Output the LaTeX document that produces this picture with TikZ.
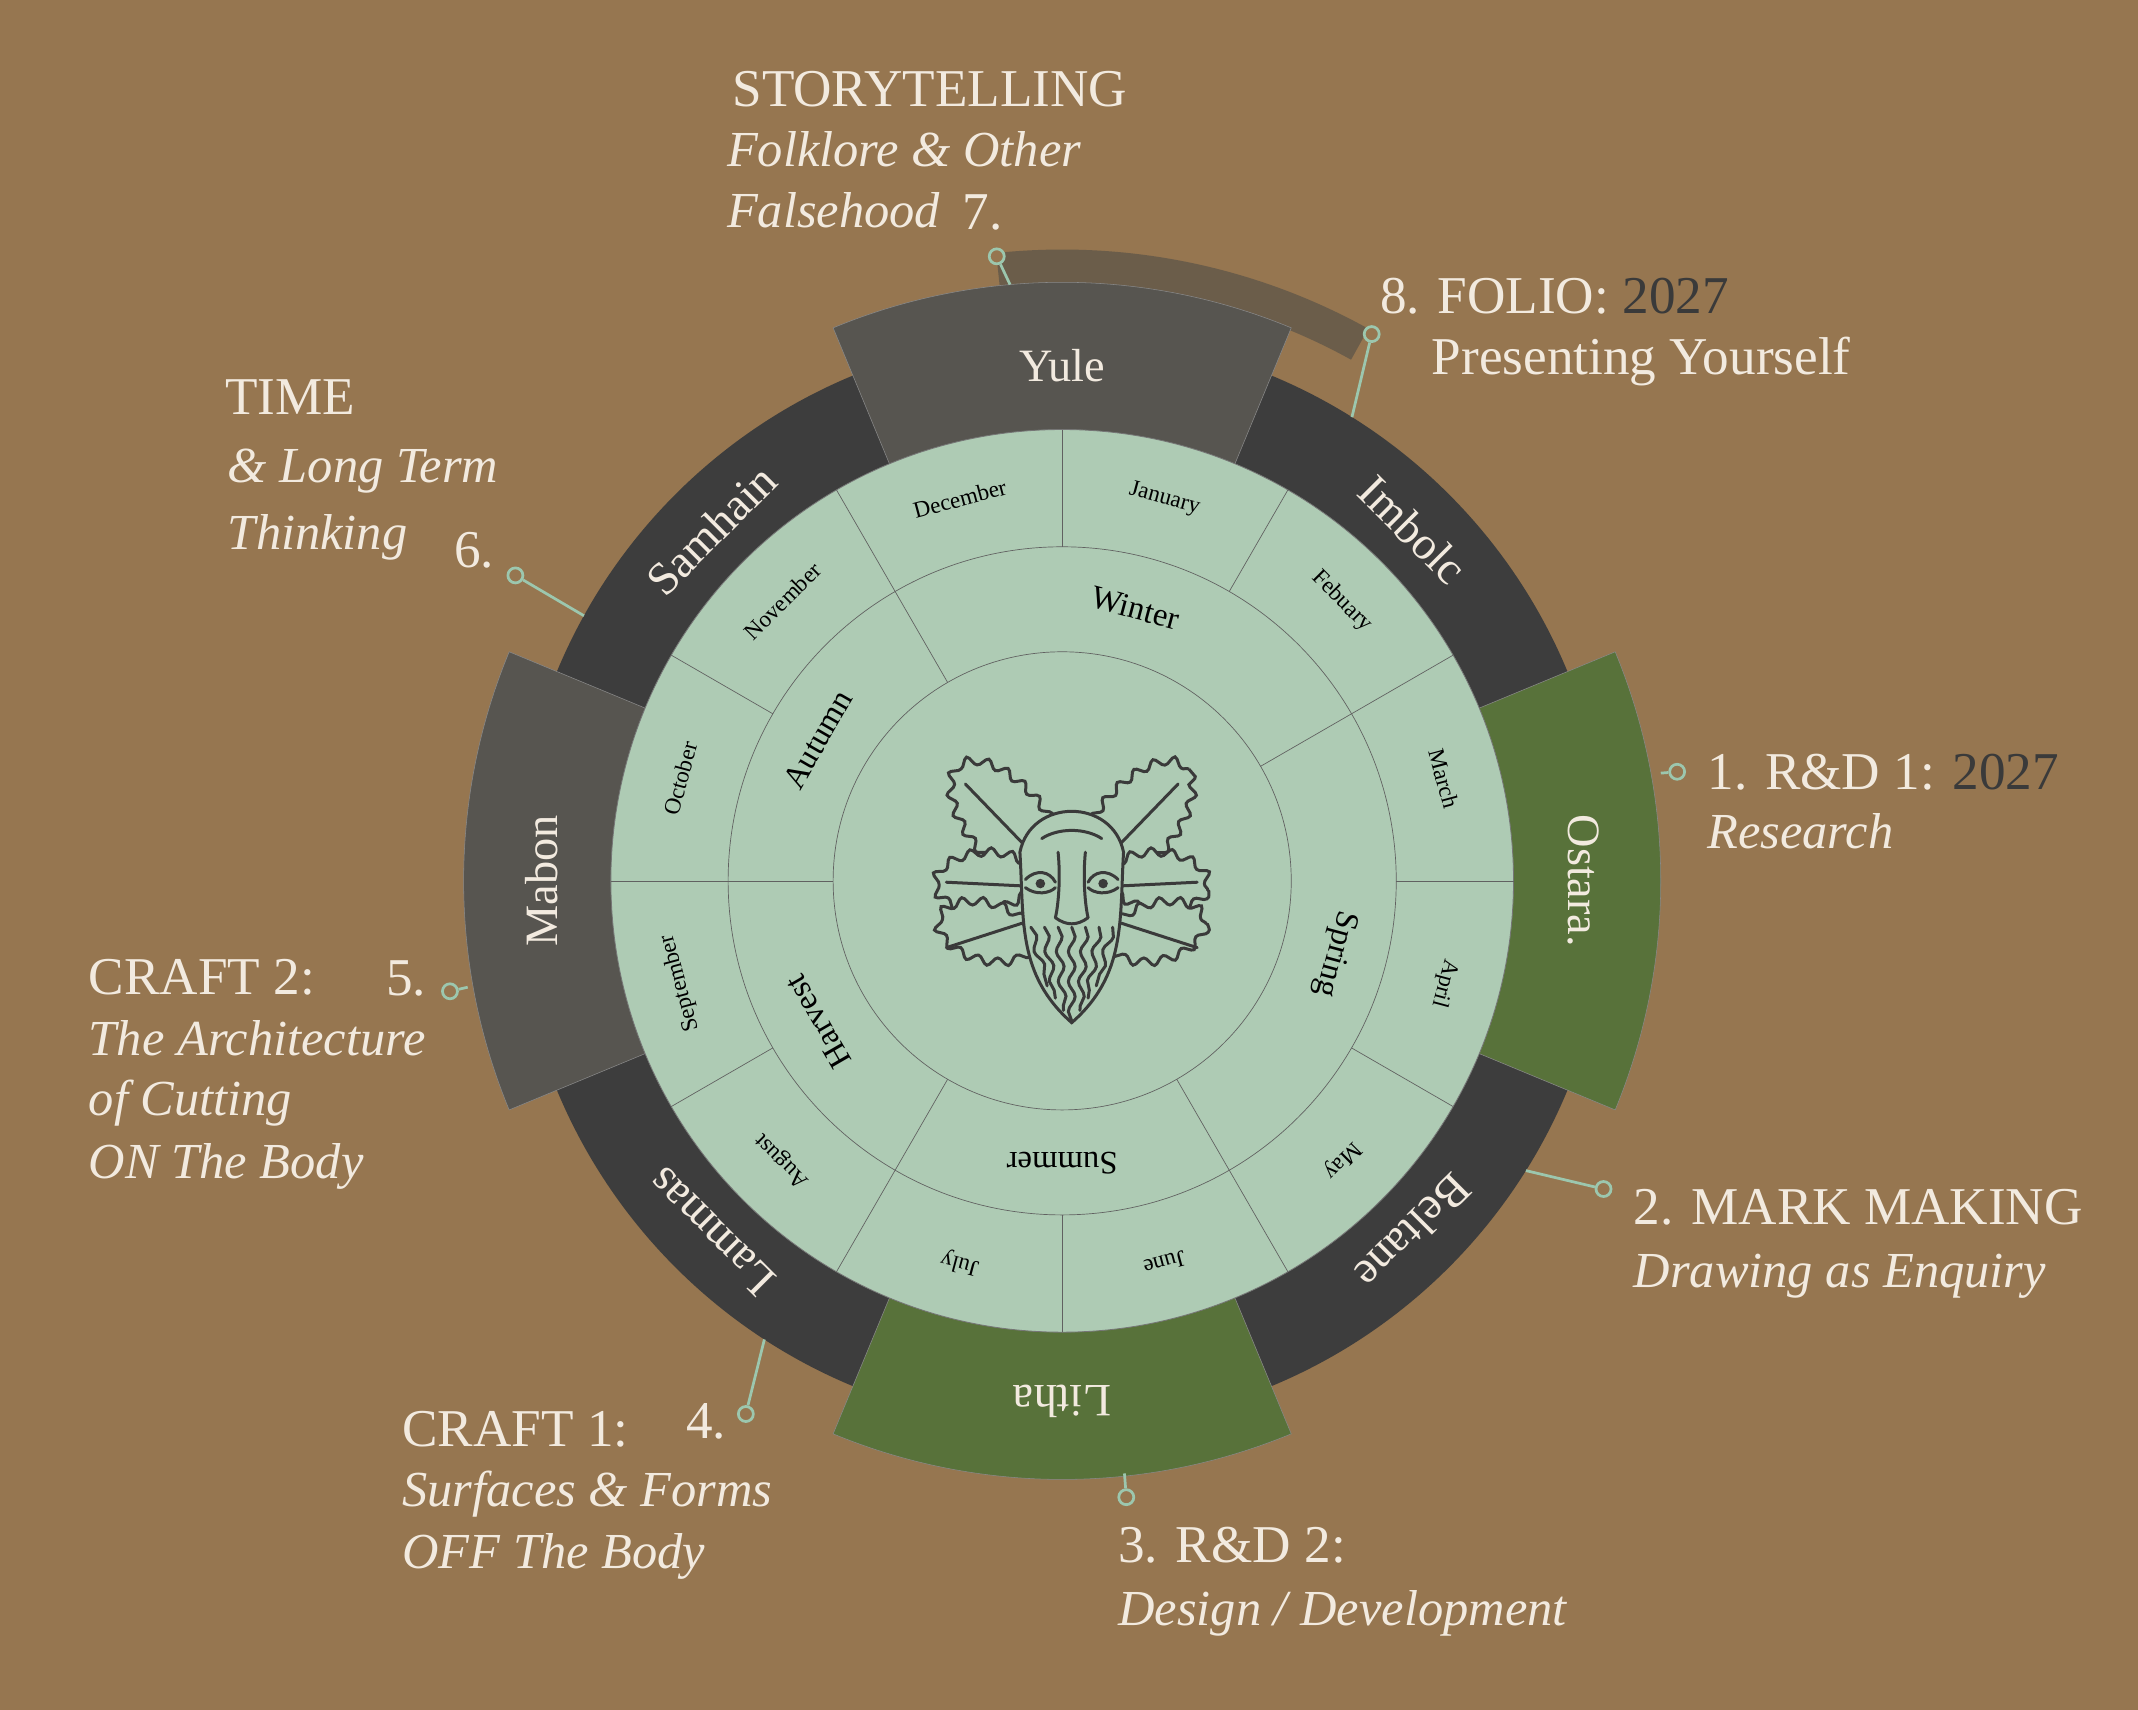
\documentclass[tikz,border=0pt]{standalone}
\usepackage{fontspec}
\setmainfont{Liberation Serif}
\usetikzlibrary{decorations.pathmorphing}
\definecolor{bg}{HTML}{967650}
\definecolor{mint}{HTML}{AECBB4}
\definecolor{darkring}{HTML}{3D3D3D}
\definecolor{greysec}{HTML}{575550}
\definecolor{greensec}{HTML}{58723A}
\definecolor{band}{HTML}{6B5D4A}
\definecolor{txt}{HTML}{F2EADF}
\definecolor{ink}{HTML}{3A3A3A}
\definecolor{pin}{HTML}{9CC7AE}
\tikzset{
  x=1pt,y=1pt,
  sectorline/.style={draw=ink!80,line width=0.5pt},
  monthlbl/.style={font=\fontsize{17}{17}\selectfont,text=black},
  seasonlbl/.style={font=\fontsize{24}{24}\selectfont,text=black},
  outerlbl/.style={font=\fontsize{34}{34}\selectfont,text=txt},
  biglbl/.style={font=\fontsize{39}{40}\selectfont,text=txt,anchor=base west,inner sep=0},
  itlbl/.style={font=\fontsize{37}{40}\selectfont\itshape,text=txt,anchor=base west,inner sep=0},
  pinc/.style={circle,draw=pin,line width=2pt,minimum size=11pt,inner sep=0,fill=bg},
  pinl/.style={draw=pin,line width=2pt},
  leaf/.style={draw=ink,line width=2.2pt,fill=mint,decorate,decoration={snake,segment length=15pt,amplitude=3pt}},
  inkl/.style={draw=ink,line width=2.2pt,line cap=round}
}
\newcommand{\ann}[5]{% a1 a2 r1 r2 style
  \path[#5] ([shift={(#1:#3pt)}]C) arc[start angle=#1,end angle=#2,radius=#3pt] -- ([shift={(#2:#4pt)}]C) arc[start angle=#2,end angle=#1,radius=#4pt] -- cycle;}
\begin{document}
\begin{tikzpicture}
\fill[bg] (0,0) rectangle (1568,-1254);
\useasboundingbox (0,0) rectangle (1568,-1254);
\coordinate (C) at (779,-646);
% band arc 7-8
\ann{96}{61}{437}{463}{fill=band}
% outer ring
\fill[darkring] (C) circle (401pt);
\ann{67.5}{112.5}{320}{439}{fill=greysec,draw=ink!60,line width=0.4pt}
\ann{157.5}{202.5}{320}{439}{fill=greysec,draw=ink!60,line width=0.4pt}
\ann{-22.5}{22.5}{320}{439}{fill=greensec,draw=ink!60,line width=0.4pt}
\ann{247.5}{292.5}{320}{439}{fill=greensec,draw=ink!60,line width=0.4pt}
% mint disc
\fill[mint,draw=ink!70,line width=0.6pt] (C) circle (331pt);
\draw[sectorline] (C) circle (245pt);
\draw[sectorline] (C) circle (168pt);
\foreach \a in {0,30,...,330} \draw[sectorline] ([shift={(\a:245pt)}]C) -- ([shift={(\a:331pt)}]C);
\foreach \a in {30,120,180,240,300} \draw[sectorline] ([shift={(\a:168pt)}]C) -- ([shift={(\a:245pt)}]C);
% months
\foreach \a/\m [count=\i] in {75/January,45/Febuary,15/March,-15/April,-45/May,-75/June,-105/July,-135/August,-165/September,165/October,135/November,105/December}
  \node[monthlbl,rotate=\a-90] (m\i) at ([shift={(\a:290pt)}]C) {\m};
% seasons
\foreach \a/\s [count=\i] in {75/Winter,-15/Spring,150/Autumn,210/Harvest,270/Summer}
  \node[seasonlbl,rotate=\a-90] (s\i) at ([shift={(\a:207pt)}]C) {\s};
% outer labels
\node[outerlbl,rotate=0] (yule) at ([shift={(90:378pt)}]C) {Yule};
\node[outerlbl,rotate=-45] (imbolc) at ([shift={(45:364pt)}]C) {Imbolc};
\node[outerlbl,rotate=-90] (ostara) at ([shift={(0:382pt)}]C) {Ostara.};
\node[outerlbl,rotate=-135] (beltane) at ([shift={(-45:364pt)}]C) {Beltane};
\node[outerlbl,rotate=-180] (litha) at ([shift={(-90:382pt)}]C) {Litha};
\node[outerlbl,rotate=135] (lammas) at ([shift={(225:364pt)}]C) {Lammas};
\node[outerlbl,rotate=90] (mabon) at ([shift={(180:382pt)}]C) {Mabon};
\node[outerlbl,rotate=45] (samhain) at ([shift={(135:364pt)}]C) {Samhain};
% green man
\begin{scope}[shift={(786,-655)}]
  \path[leaf] (-50,48) ellipse[x radius=56pt,y radius=28pt,rotate=-50];
  \path[leaf] (50,48) ellipse[x radius=56pt,y radius=28pt,rotate=50];
  \path[leaf] (-64,5) ellipse[x radius=36pt,y radius=21pt,rotate=5];
  \path[leaf] (64,5) ellipse[x radius=36pt,y radius=21pt,rotate=-5];
  \path[leaf] (-64,-32) ellipse[x radius=36pt,y radius=21pt,rotate=-15];
  \path[leaf] (64,-32) ellipse[x radius=36pt,y radius=21pt,rotate=15];
  \draw[inkl] (-20,20) -- (-78,80) (20,20) -- (78,80) (-30,5)--(-92,8) (30,5)--(92,8) (-30,-20)--(-92,-40) (30,-20)--(92,-40);
  \draw[inkl,fill=mint] (-38,30) .. controls (-30,70) and (30,70) .. (38,30) .. controls (35,-20) and (40,-60) .. (0,-95) .. controls (-40,-60) and (-35,-20) .. (-38,30) -- cycle;
  \draw[inkl] (-22,40) .. controls (-10,48) and (10,48) .. (22,40);
  \draw[inkl] (-10,30) .. controls (-8,10) and (-10,-10) .. (-12,-18) (10,30) .. controls (8,10) and (10,-10) .. (12,-18);
  \draw[inkl] (-12,-18) .. controls (-4,-24) and (4,-24) .. (12,-18);
  \draw[inkl] (-34,10) .. controls (-26,18) and (-16,16) .. (-12,8) (34,10) .. controls (26,18) and (16,16) .. (12,8);
  \draw[inkl] (-34,4) .. controls (-26,-2) and (-16,0) .. (-12,4) (34,4) .. controls (26,-2) and (16,0) .. (12,4);
  \fill[ink] (-23,7) circle (3.5pt) (23,7) circle (3.5pt);
  \foreach \x in {-30,-20,-10,0,10,20,30}
    \draw[inkl,decorate,decoration={snake,segment length=22pt,amplitude=2.5pt}] (\x,-25) -- ({\x*0.6},{-95+abs(\x)*0.9});
\end{scope}
% pins
\node[pinc] (p7) at (731,-188) {};
\coordinate (r7) at ([shift={(95:439pt)}]C);
\draw[pinl] (p7) -- (r7);
\node[pinc] (p8) at (1006,-245) {};
\coordinate (r8) at ([shift={(58:401pt)}]C);
\draw[pinl] (p8) -- (r8);
\node[pinc] (p1) at (1230,-566) {};
\coordinate (r1) at (1218,-567);
\draw[pinl] (p1) -- (r1);
\node[pinc] (p2) at (1176,-872) {};
\coordinate (r2) at ([shift={(-32:401pt)}]C);
\draw[pinl] (p2) -- (r2);
\node[pinc] (p3) at (826,-1098) {};
\coordinate (r3) at ([shift={(-84:437pt)}]C);
\draw[pinl] (p3) -- (r3);
\node[pinc] (p4) at (547,-1037) {};
\coordinate (r4) at ([shift={(-123:401pt)}]C);
\draw[pinl] (p4) -- (r4);
\node[pinc] (p5) at (330,-727) {};
\coordinate (r5) at (343,-724);
\draw[pinl] (p5) -- (r5);
\node[pinc] (p6) at (378,-422) {};
\coordinate (r6) at ([shift={(151:401pt)}]C);
\draw[pinl] (p6) -- (r6);
% text blocks
\node[biglbl] (t7a) at (537,-78) {STORYTELLING};
\node[itlbl] (t7b) at (533,-122) {Folklore \& Other};
\node[itlbl] (t7c) at (533,-167) {Falsehood};
\node[biglbl] (t7n) at (706,-168) {7.};
\node[biglbl] (t8a) at (1012,-230) {8. FOLIO: \textcolor{ink}{2027}};
\node[biglbl] (t8b) at (1050,-275) {Presenting Yourself};
\node[biglbl] (t6a) at (165,-304) {TIME};
\node[itlbl] (t6b) at (167,-354) {\& Long Term};
\node[itlbl] (t6c) at (167,-403) {Thinking};
\node[biglbl] (t6n) at (333,-416) {6.};
\node[biglbl] (t1a) at (1252,-579) {1. R\&D 1: \textcolor{ink}{2027}};
\node[itlbl] (t1b) at (1252,-622) {Research};
\node[biglbl] (t2a) at (1198,-898) {2. MARK MAKING};
\node[itlbl] (t2b) at (1198,-944) {Drawing as Enquiry};
\node[biglbl] (t5a) at (65,-729) {CRAFT 2:};
\node[biglbl] (t5n) at (283,-730) {5.};
\node[itlbl] (t5b) at (65,-774) {The Architecture};
\node[itlbl] (t5c) at (65,-818) {of Cutting};
\node[itlbl] (t5d) at (65,-864) {ON The Body};
\node[biglbl] (t4a) at (295,-1061) {CRAFT 1:};
\node[biglbl] (t4n) at (503,-1055) {4.};
\node[itlbl] (t4b) at (295,-1105) {Surfaces \& Forms};
\node[itlbl] (t4c) at (295,-1150) {OFF The Body};
\node[biglbl] (t3a) at (820,-1146) {3. R\&D 2:};
\node[itlbl] (t3b) at (820,-1192) {Design / Development};
\end{tikzpicture}
\end{document}
